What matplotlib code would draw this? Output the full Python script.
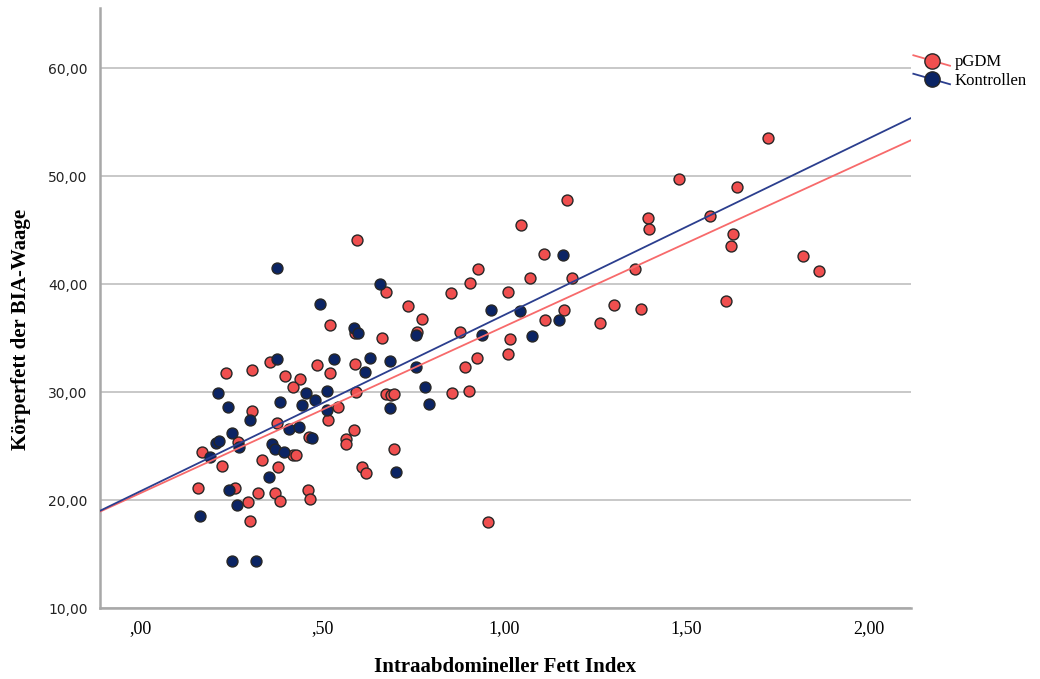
import numpy as np
import matplotlib
matplotlib.use("Agg")
import matplotlib.pyplot as plt
from matplotlib.lines import Line2D
from matplotlib.legend_handler import HandlerLine2D
from matplotlib.ticker import FixedLocator, FuncFormatter

# pGDM group (Intraabdomineller Fett Index, Koerperfett)
pgdm_x = [0.307, 0.374, 0.269, 0.168, 0.420, 0.427, 0.464, 0.566, 0.566, 0.225,
          0.334, 0.377, 0.158, 0.260, 0.323, 0.370, 0.384, 0.460, 0.466, 0.295,
          0.301, 0.543, 0.515, 0.520, 0.356, 0.236, 0.307, 0.484, 0.397, 0.439,
          0.420, 0.521, 1.108, 0.928, 0.905, 1.070, 1.187, 0.674, 0.854, 1.009,
          0.734, 1.165, 0.773, 1.111, 0.589, 0.760, 0.878, 0.664, 1.016, 1.010,
          0.924, 0.589, 0.891, 0.592, 0.674, 0.688, 0.696, 0.857, 0.902, 0.587,
          0.698, 0.609, 0.621, 0.955, 1.724, 1.480, 1.640, 1.173, 1.395, 1.398,
          1.565, 1.628, 1.623, 1.360, 1.301, 1.376, 1.262, 1.610, 1.821, 1.865,
          0.595, 1.045]
pgdm_y = [28.27, 27.10, 25.40, 24.47, 24.17, 24.17, 25.81, 25.62, 25.16, 23.18,
          23.70, 23.08, 21.08, 21.08, 20.68, 20.68, 19.91, 20.90, 20.09, 19.79,
          18.08, 28.58, 27.38, 36.18, 32.78, 31.79, 32.01, 32.50, 31.48, 31.20,
          30.49, 31.79, 42.78, 41.39, 40.09, 40.58, 40.62, 39.29, 39.19, 39.29,
          37.99, 37.59, 36.82, 36.69, 35.44, 35.53, 35.53, 35.00, 34.91, 33.58,
          33.21, 32.62, 32.31, 29.97, 29.81, 29.72, 29.81, 29.88, 30.09, 26.48,
          24.69, 23.08, 22.47, 17.99, 53.52, 49.72, 49.01, 47.84, 46.14, 45.09,
          46.36, 44.63, 43.52, 41.42, 38.12, 37.69, 36.42, 38.43, 42.62, 41.20,
          44.10, 45.49]

# Kontrollen group
ctrl_x = [0.374, 0.494, 0.374, 0.532, 0.214, 0.455, 0.512, 0.480, 0.383, 0.444,
          0.240, 0.300, 0.407, 0.437, 0.512, 0.471, 0.253, 0.208, 0.216, 0.271,
          0.362, 0.371, 0.395, 0.191, 0.353, 0.244, 0.264, 0.163, 0.253, 0.318,
          1.160, 0.657, 0.964, 1.043, 1.149, 0.586, 0.597, 0.756, 0.939, 1.077,
          0.630, 0.686, 0.617, 0.756, 0.782, 0.793, 0.685, 0.703]
ctrl_y = [41.55, 38.21, 33.12, 33.12, 29.88, 29.88, 30.12, 29.29, 29.07, 28.80,
          28.58, 27.41, 26.57, 26.79, 28.33, 25.77, 26.18, 25.31, 25.49, 24.94,
          25.19, 24.75, 24.42, 23.98, 22.16, 20.90, 19.54, 18.49, 14.35, 14.35,
          42.69, 40.00, 37.59, 37.50, 36.69, 35.95, 35.44, 35.34, 35.28, 35.21,
          33.21, 32.90, 31.88, 32.29, 30.49, 28.89, 28.49, 22.59]

x_ticks = [0.0, 0.5, 1.0, 1.5, 2.0]
y_ticks = [10, 20, 30, 40, 50, 60]
x_range = (-0.111, 2.117)
y_range = (10, 65.6)

red_fill = '#F04F4F'
blue_fill = '#0B2464'
red_line = '#F76A6B'
blue_line = '#2B3E8E'


def de_fmt(v, pos=None):
    s = '%.2f' % v
    s = s.replace('.', ',')
    if s.startswith('0,'):
        s = s[1:]
    return s


class SlantLine(HandlerLine2D):
    # legend line crosses the marker diagonally like SPSS does
    def create_artists(self, legend, orig_handle, xdescent, ydescent,
                       width, height, fontsize, trans):
        arts = super().create_artists(legend, orig_handle, xdescent, ydescent,
                                      width, height, fontsize, trans)
        mid = (height - ydescent) / 2
        n = len(arts[0].get_xdata())
        arts[0].set_ydata(np.linspace(mid + 0.45 * height, mid - 0.45 * height, n))
        return arts


fig = plt.figure(figsize=(10.4, 6.79), dpi=100)
ax = fig.add_axes([100 / 1040, 1 - 608 / 679, 811 / 1040, 600 / 679])

ax.scatter(pgdm_x, pgdm_y, s=62, c=red_fill, edgecolors='#262626',
           linewidths=1.0, zorder=2)
ax.scatter(ctrl_x, ctrl_y, s=62, c=blue_fill, edgecolors='#262626',
           linewidths=1.0, zorder=2)

# linear fit lines over the full x range
xx = np.array(x_range)
b1, a1 = np.polyfit(pgdm_x, pgdm_y, 1)
b2, a2 = np.polyfit(ctrl_x, ctrl_y, 1)
ax.plot(xx, a1 + b1 * xx, color=red_line, lw=1.3, zorder=3)
ax.plot(xx, a2 + b2 * xx, color=blue_line, lw=1.3, zorder=3)

ax.set_xlim(*x_range)
ax.set_ylim(*y_range)
ax.xaxis.set_major_locator(FixedLocator(x_ticks))
ax.yaxis.set_major_locator(FixedLocator(y_ticks))
ax.xaxis.set_major_formatter(FuncFormatter(de_fmt))
ax.yaxis.set_major_formatter(FuncFormatter(de_fmt))
ax.tick_params(axis='both', length=0)
ax.tick_params(axis='x', pad=9)
ax.tick_params(axis='y', pad=9)
for lab in ax.get_xticklabels():
    lab.set_fontfamily('Liberation Serif')
    lab.set_fontsize(13)
for lab in ax.get_yticklabels():
    lab.set_fontfamily('DejaVu Sans')
    lab.set_fontsize(10)
    lab.set_color('#222222')

ax.grid(axis='y', color='#C4C4C4', lw=1.3)
ax.set_axisbelow(True)
for sp in ['top', 'right']:
    ax.spines[sp].set_visible(False)
for sp in ['left', 'bottom']:
    ax.spines[sp].set_color('#A8A8A8')
    ax.spines[sp].set_linewidth(1.8)

ax.set_xlabel('Intraabdomineller Fett Index', fontfamily='Liberation Serif',
              fontweight='bold', fontsize=15, labelpad=14)
ax.set_ylabel('Körperfett der BIA-Waage', fontfamily='Liberation Serif',
              fontweight='bold', fontsize=15, labelpad=12)
ax.yaxis.label.set_y(0.465)

handles = [Line2D([], [], color=red_line, lw=1.3, marker='o', markersize=11,
                  markerfacecolor=red_fill, markeredgecolor='#262626'),
           Line2D([], [], color=blue_line, lw=1.3, marker='o', markersize=11,
                  markerfacecolor=blue_fill, markeredgecolor='#262626')]
fig.legend(handles, ['pGDM', 'Kontrollen'], loc='upper left',
           bbox_to_anchor=(905 / 1040, 1 - 46 / 679), frameon=False,
           handlelength=2.2, handletextpad=0.3, labelspacing=0.15,
           borderpad=0, prop={'family': 'Liberation Serif', 'size': 12},
           handler_map={Line2D: SlantLine()})

fig.savefig('out.png', dpi=100)
